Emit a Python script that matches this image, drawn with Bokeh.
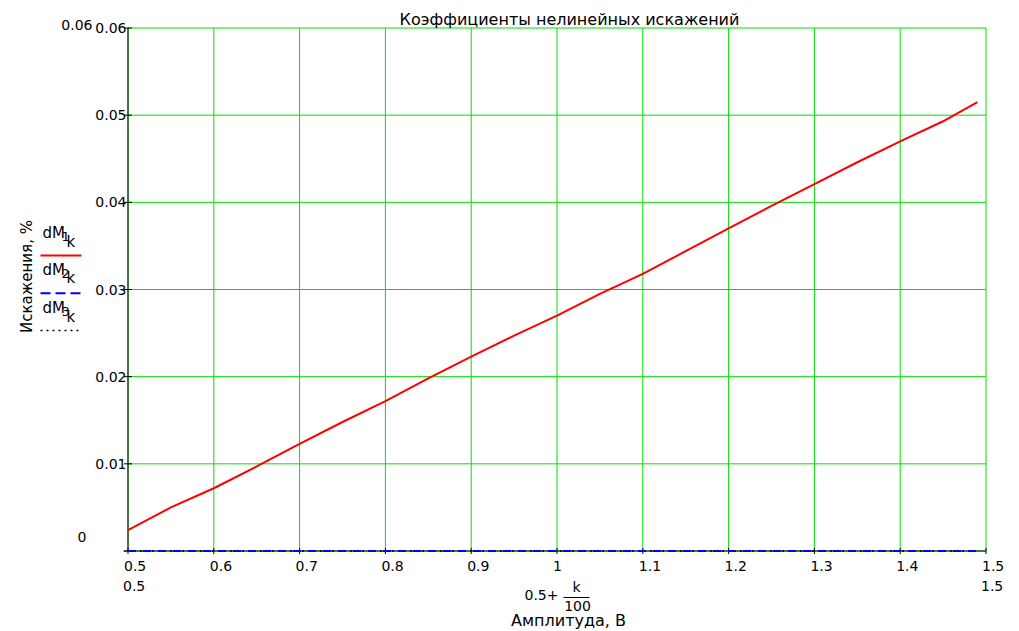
from math import pi
from bokeh.plotting import figure
from bokeh.models import Range1d
from bokeh.core.properties import value
from bokeh.embed import file_html
from bokeh.resources import INLINE

# ---- data ----
amplitude = [0.5, 0.55, 0.6, 0.65, 0.7, 0.75, 0.8, 0.85, 0.9, 0.95, 1.0,
             1.05, 1.1, 1.15, 1.2, 1.25, 1.3, 1.35, 1.4, 1.45, 1.49]
dM1 = [0.0024, 0.0050, 0.0072, 0.0097, 0.0123, 0.0148, 0.0172, 0.0198, 0.0223,
       0.0247, 0.0270, 0.0295, 0.0318, 0.0344, 0.0370, 0.0396, 0.0421, 0.0446,
       0.0470, 0.0493, 0.0515]
dM2 = [0.0] * len(amplitude)
dM3 = [0.0] * len(amplitude)

x_ticks = [0.5, 0.6, 0.7, 0.8, 0.9, 1.0, 1.1, 1.2, 1.3, 1.4, 1.5]
x_tick_labels = ["0.5", "0.6", "0.7", "0.8", "0.9", "1", "1.1", "1.2", "1.3", "1.4", "1.5"]
y_ticks = [0.0, 0.01, 0.02, 0.03, 0.04, 0.05, 0.06]
y_tick_labels = ["", "0.01", "0.02", "0.03", "0.04", "0.05", "0.06"]
x_limits = [0.5, 1.5]
x_limit_labels = ["0.5", "1.5"]
y_limit_labels = ["0", "0.06"]

title = "Коэффициенты нелинейных искажений"
x_title = "Амплитуда, В"
y_title = "Искажения, %"
series_names = ["dM", "dM", "dM"]
series_index = ["1", "2", "3"]

FONT = "DejaVu Sans"
GREEN = "#00E000"
W, H = 1019, 631

# plot-area placement on the page (screen px)
SX0, SX1, SY0, SY1 = 127.5, 985.5, 550.5, 27.5
XMIN, XMAX, YMIN, YMAX = 0.5, 1.5, 0.0, 0.06


def dx(sx):
    return XMIN + (sx - SX0) / (SX1 - SX0) * (XMAX - XMIN)


def dy(sy):
    return YMIN + (SY0 - sy) / (SY0 - SY1) * (YMAX - YMIN)


p = figure(width=W, height=H, output_backend="svg", toolbar_location=None,
           x_range=Range1d(dx(0), dx(W)), y_range=Range1d(dy(H), dy(0)),
           x_axis_type=None, y_axis_type=None, min_border=0)
p.outline_line_color = None
p.background_fill_color = "white"
p.border_fill_color = "white"
p.xgrid.visible = False
p.ygrid.visible = False

nx, ny = len(x_ticks), len(y_ticks)

# grid lines
p.segment(x0=x_ticks, y0=[YMIN] * nx, x1=x_ticks, y1=[YMAX] * nx,
          line_color=GREEN, line_width=1)
p.segment(x0=[XMIN] * ny, y0=y_ticks, x1=[XMAX] * ny, y1=y_ticks,
          line_color=GREEN, line_width=1)

# axes lines and ticks
p.segment(x0=[dx(123)], y0=[YMIN], x1=[XMAX], y1=[YMIN], line_color="black", line_width=1)
p.segment(x0=[XMIN], y0=[YMIN], x1=[XMIN], y1=[YMAX], line_color="black", line_width=1)
p.segment(x0=x_ticks, y0=[dy(SY0 - 3)] * nx, x1=x_ticks, y1=[dy(SY0 + 3)] * nx,
          line_color="black", line_width=1)
p.segment(x0=[dx(SX0 - 4)] * ny, y0=y_ticks, x1=[dx(SX0 + 4)] * ny, y1=y_ticks,
          line_color="black", line_width=1)

# series
p.line(amplitude, dM3, line_color="black", line_width=1.5, line_dash="2 4")
p.line(amplitude, dM2, line_color="#0000FF", line_width=2, line_dash="8 7")
p.line(amplitude, dM1, line_color="#FF0000", line_width=2)

TS = "14px"


def txt(xs, ys, texts, size=TS, align="left", baseline="middle", angle=0.0, x_offset=0):
    p.text(x=xs, y=ys, text=texts, text_font=value(FONT), text_font_size=value(size),
           text_color="black", text_align=align, text_baseline=baseline,
           angle=angle, x_offset=x_offset)


# tick labels
txt(x_ticks, [dy(565)] * nx, x_tick_labels, x_offset=-4)
txt([dx(126)] * (ny - 1), y_ticks[1:], y_tick_labels[1:], align="right")

# limit labels
txt(x_limits, [dy(585.5)] * 2, x_limit_labels, x_offset=-5)
txt([dx(92)], [dy(24.5)], [y_limit_labels[1]], align="right")
txt([dx(86)], [dy(536)], [y_limit_labels[0]], align="right")

# title
txt([dx(569)], [dy(18.5)], [title], size="16px", align="center")

# x axis title: 0.5 + k/100, then name
txt([dx(558)], [dy(594)], ["0.5+"], align="right")
txt([dx(576)], [dy(586)], ["k"], align="center")
p.segment(x0=[dx(563)], y0=[dy(597)], x1=[dx(589)], y1=[dy(597)], line_color="black", line_width=1)
txt([dx(577)], [dy(605.5)], ["100"], align="center")
txt([dx(568)], [dy(620)], [x_title], size="16px", align="center")

# y axis title
txt([dx(26)], [dy(276)], [y_title], size="15px", align="center", angle=pi / 2)

# legend
legend_y = [232.5, 269, 307.5]
line_y = [255, 292.7, 330]
styles = [("#FF0000", None, 2), ("#0000FF", "10 5", 2), ("black", "2 4", 1.5)]
for name, idx, ty, ly, (col, dash, w) in zip(series_names, series_index, legend_y, line_y, styles):
    txt([dx(42)], [dy(ty)], [name], size="15px")
    txt([dx(61)], [dy(ty + 3.5)], [idx], size="13px")
    txt([dx(66)], [dy(ty + 8.5)], ["k"], size="15px")
    kw = dict(x0=[dx(40)], y0=[dy(ly)], x1=[dx(81)], y1=[dy(ly)], line_color=col, line_width=w)
    if dash:
        kw["line_dash"] = dash
    p.segment(**kw)

open("out.html", "w").write(file_html(p, INLINE))
